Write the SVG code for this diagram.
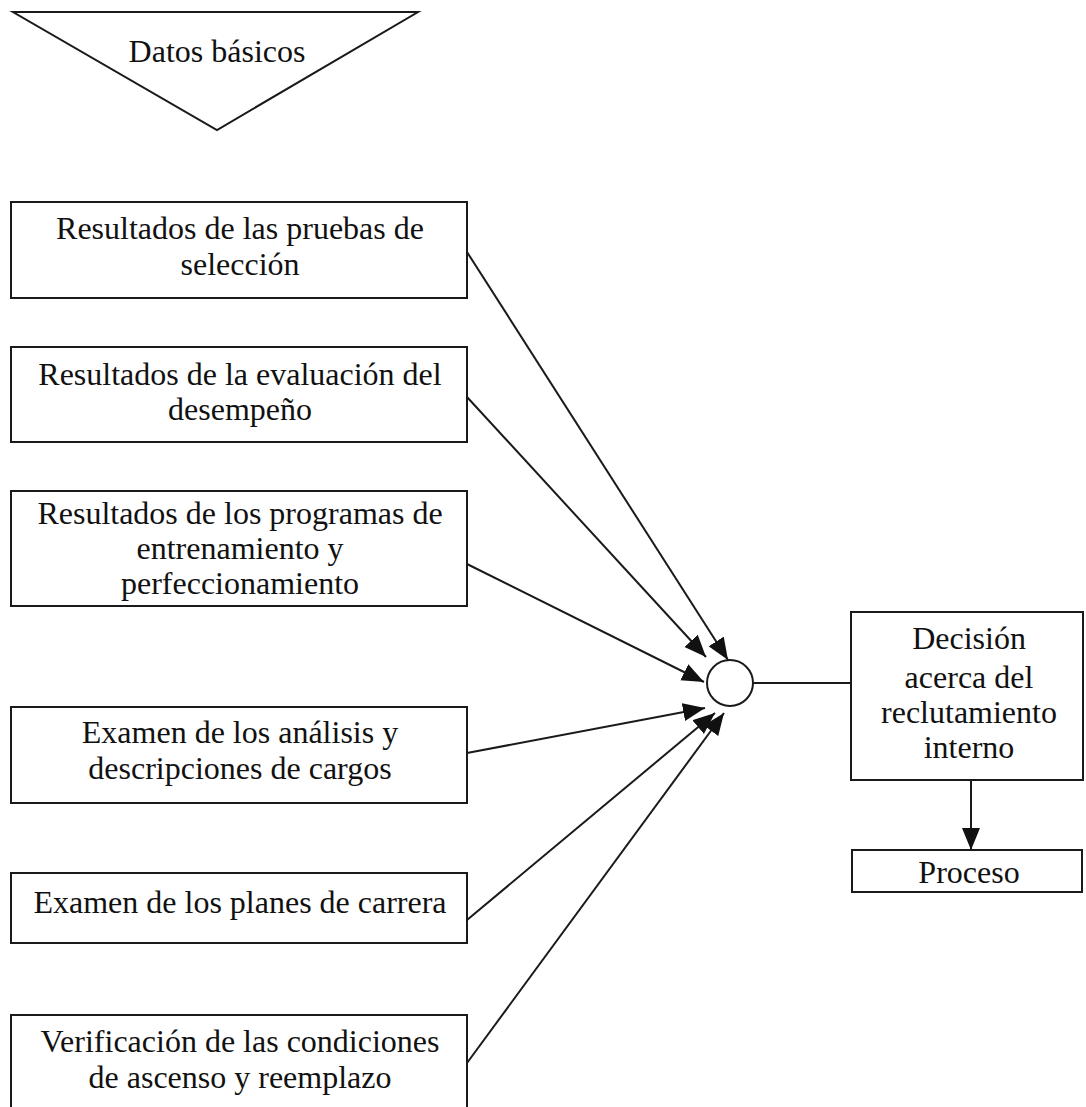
<svg xmlns="http://www.w3.org/2000/svg" width="1086" height="1107" viewBox="0 0 1086 1107">
<style>
.box{fill:#fff;stroke:#1a1a1a;stroke-width:2}
.t{font-family:"Liberation Serif","Times New Roman",serif;font-size:32px;fill:#111;text-anchor:middle}
.c{stroke:#1a1a1a;stroke-width:2;fill:none}
</style>
<defs>
<marker id="ah" markerUnits="userSpaceOnUse" markerWidth="24" markerHeight="20" refX="22" refY="9" orient="auto">
<path d="M0,0 L22,9 L0,18 Z" fill="#111"/>
</marker>
</defs>
<rect width="1086" height="1107" fill="#fff"/>
<g id="datos">
<polygon class="box" points="13,12 418,12 217,130"/>
<text class="t" x="217" y="62">Datos básicos</text>
</g>
<g id="n1">
<rect class="box" x="11" y="202" width="456" height="96"/>
<text class="t" x="240" y="239">Resultados de las pruebas de</text>
<text class="t" x="240" y="275">selección</text>
</g>
<g id="n2">
<rect class="box" x="11" y="347" width="456" height="95"/>
<text class="t" x="240" y="385">Resultados de la evaluación del</text>
<text class="t" x="240" y="420">desempeño</text>
</g>
<g id="n3">
<rect class="box" x="11" y="491" width="456" height="115"/>
<text class="t" x="240" y="524">Resultados de los programas de</text>
<text class="t" x="240" y="559">entrenamiento y</text>
<text class="t" x="240" y="594">perfeccionamiento</text>
</g>
<g id="n4">
<rect class="box" x="11" y="707" width="456" height="96"/>
<text class="t" x="240" y="743">Examen de los análisis y</text>
<text class="t" x="240" y="779">descripciones de cargos</text>
</g>
<g id="n5">
<rect class="box" x="11" y="873" width="456" height="70"/>
<text class="t" x="240" y="913">Examen de los planes de carrera</text>
</g>
<g id="n6">
<rect class="box" x="11" y="1015" width="456" height="100"/>
<text class="t" x="240" y="1052">Verificación de las condiciones</text>
<text class="t" x="240" y="1088">de ascenso y reemplazo</text>
</g>
<g id="junction">
<circle class="box" cx="730" cy="683" r="23"/>
</g>
<g id="decision">
<rect class="box" x="851" y="612" width="232" height="168"/>
<text class="t" x="969" y="649">Decisión</text>
<text class="t" x="969" y="688">acerca del</text>
<text class="t" x="969" y="723">reclutamiento</text>
<text class="t" x="969" y="758">interno</text>
</g>
<g id="proceso">
<rect class="box" x="852" y="850" width="230" height="42"/>
<text class="t" x="969" y="883">Proceso</text>
</g>
<g id="connectors">
<line class="c" x1="467" y1="252" x2="728" y2="660" marker-end="url(#ah)"/>
<line class="c" x1="467" y1="397" x2="706" y2="657" marker-end="url(#ah)"/>
<line class="c" x1="467" y1="564" x2="704" y2="682" marker-end="url(#ah)"/>
<line class="c" x1="467" y1="753" x2="705" y2="708" marker-end="url(#ah)"/>
<line class="c" x1="467" y1="920" x2="715" y2="713" marker-end="url(#ah)"/>
<line class="c" x1="467" y1="1063" x2="724" y2="713" marker-end="url(#ah)"/>
<line class="c" x1="753" y1="683" x2="851" y2="683"/>
<line class="c" x1="971" y1="780" x2="971" y2="850" marker-end="url(#ah)"/>
</g>
</svg>
